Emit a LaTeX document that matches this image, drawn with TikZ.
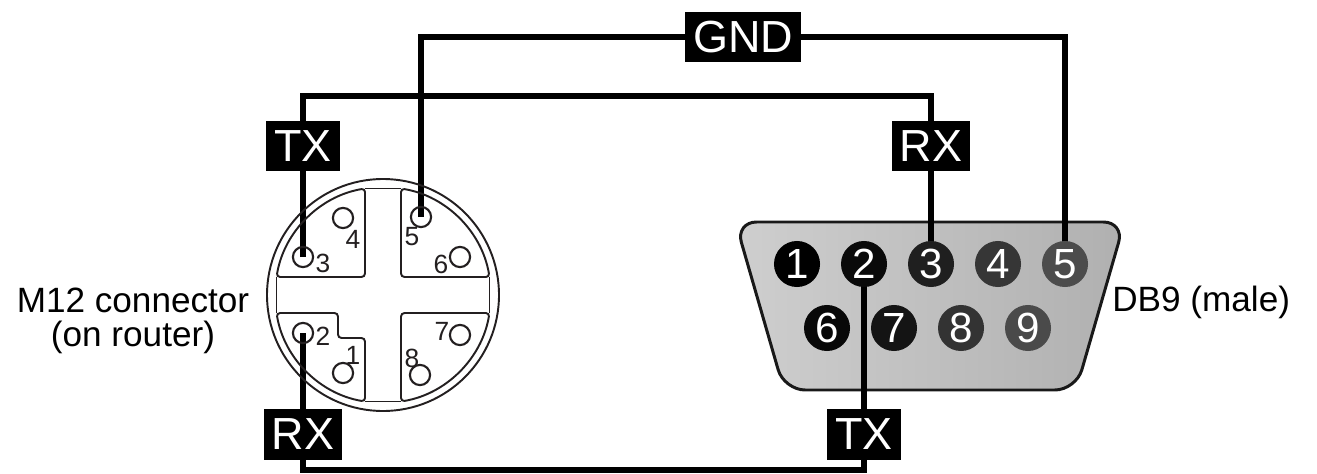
\documentclass[tikz,border=0pt]{standalone}
\usepackage{fontspec}
\setmainfont{Liberation Sans}
\usetikzlibrary{backgrounds}
\definecolor{mline}{HTML}{231F20}
\begin{document}
\begin{tikzpicture}[x=0.02cm, y=-0.02cm,
    wire/.style={line width=3.1pt},
    sig/.style={fill=black, text=white, inner xsep=4.6pt, inner ysep=0pt, minimum height=28.5pt, font=\fontsize{25.6}{30}\selectfont},
    mbody/.style={draw=mline, line width=1.1pt},
    mpin/.style={circle, draw=mline, line width=1.2pt, inner sep=0pt, minimum size=11.5pt},
    mnum/.style={inner sep=0pt, text=mline, font=\fontsize{15}{17}\selectfont},
    dpin/.style={circle, inner sep=0pt, minimum size=26.2pt, text=white, font=\fontsize{24}{26}\selectfont},
    shell/.style={draw=black!90, line width=1.7pt, rounded corners=12pt, left color=black!19, right color=black!31},
    side/.style={inner sep=0pt, font=\fontsize{20}{19.5}\selectfont}]
\useasboundingbox (0,0) rectangle (1317,473);
% M12 connector
\coordinate (c) at (383,295);
\draw[mbody] (c) circle[radius=116];
\draw[mbody, rounded corners=2pt] (365,277) -- (365,188.5) arc[start angle=260.4, end angle=189.6, radius=108] -- cycle;
\draw[mbody, rounded corners=2pt] (401,277) -- (489.5,277) arc[start angle=350.4, end angle=279.6, radius=108] -- cycle;
\draw[mbody, rounded corners=2pt] (401,313) -- (401,401.5) arc[start angle=80.4, end angle=9.6, radius=108] -- cycle;
\draw[mbody, rounded corners=2pt] (365,401.5) arc[start angle=99.6, end angle=170.4, radius=108] -- (338,313) -- (338,338) -- (365,338) -- cycle;
\draw[mbody] (365,188.5) -- (401,188.5) (489.5,277) -- (489.5,313) (401,401.5) -- (365,401.5) (276.5,313) -- (276.5,277);
\foreach \n/\x/\y in {1/343/373, 2/303/333, 3/303/257, 4/343/218, 5/421/217, 6/460/257, 7/460/335, 8/420/375}
  \node[mpin] (m\n) at (\x,\y) {};
\foreach \n/\x/\y in {1/353/355, 2/323/336, 3/323/263, 4/353/239, 5/412/237, 6/441/264, 7/442/331, 8/412/358}
  \node[mnum] (n\n) at (\x,\y) {\n};
\node[side, align=center] (m12txt) at (133,321) {M12 connector\\(on router)};
% DB9
\begin{scope}[on background layer]
\draw[shell] (735.5,222) -- (1124.5,222) -- (1076,390) -- (784,390) -- cycle;
\end{scope}
\foreach \n/\x/\y/\k in {1/797/264/100, 2/864/264/96, 3/931/264/88, 4/998/264/79, 5/1065/264/70, 6/827/328/97, 7/894/328/92, 8/961/328/80, 9/1028/328/71}
  \node[dpin, fill=black!\k] (d\n) at (\x,\y) {\n};
\node[side, anchor=base west] (dbtxt) at (1112,311) {DB9 (male)};
% wires
\coordinate (gnd) at (0,37);
\coordinate (tx) at (0,96);
\coordinate (rx) at (0,470);
\begin{scope}[on background layer]
\draw[wire] (m5.center) -- (m5.center |- gnd) -| (d5.center);
\draw[wire] (m3.center) -- (m3.center |- tx) -| (d3.center);
\draw[wire] (m2.center) -- (m2.center |- rx) -| (d2.center);
\end{scope}
\node[sig] (gndlbl) at (743,37) {GND};
\node[sig] (txa) at (m3.center |- 0,146) {TX};
\node[sig] (rxa) at (d3.center |- 0,146) {RX};
\node[sig] (rxb) at (m2.center |- 0,434.5) {RX};
\node[sig] (txb) at (d2.center |- 0,434.5) {TX};
\end{tikzpicture}
\end{document}
